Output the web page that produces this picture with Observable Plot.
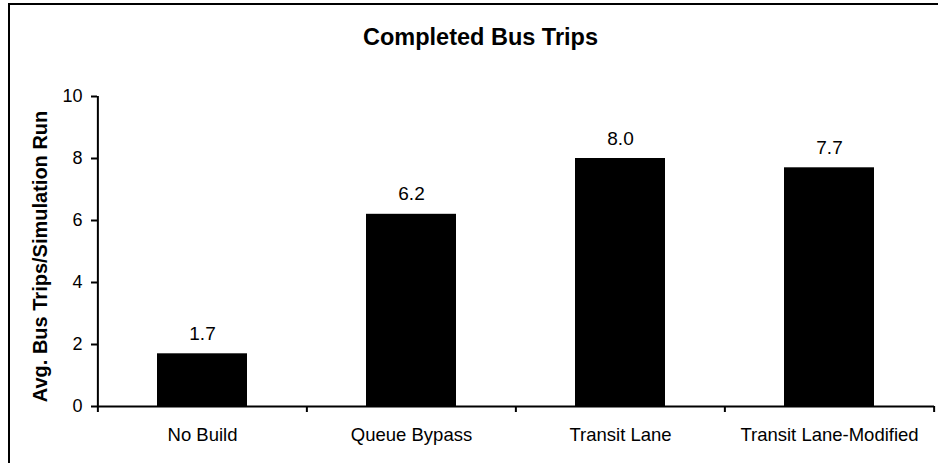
<!DOCTYPE html>
<html>
<head>
<meta charset="utf-8">
<script src="https://cdn.jsdelivr.net/npm/d3@7"></script>
<script src="https://cdn.jsdelivr.net/npm/@observablehq/plot@0.6"></script>
<style>
  html, body { margin: 0; padding: 0; background: #fff; }
  #wrap { position: relative; width: 938px; height: 463px; overflow: hidden; }
  #border { position: absolute; left: 8px; top: 3px; width: 1000px; height: 1000px;
            border-top: 2px solid #000; border-left: 2px solid #000; }
  #chart { position: absolute; left: 0; top: 0; }
</style>
</head>
<body>
<div id="wrap"><div id="border"></div><div id="chart"></div></div>
<script>
const title = "Completed Bus Trips";
const yLabel = "Avg. Bus Trips/Simulation Run";
const categories = ["No Build", "Queue Bypass", "Transit Lane", "Transit Lane-Modified"];
const values = [1.7, 6.2, 8.0, 7.7];
const yTicks = [0, 2, 4, 6, 8, 10];
const yDomain = [0, 10];

const data = categories.map((c, i) => ({category: c, value: values[i]}));

const W = 938, H = 463;
const mL = 97, mR = 4, mT = 96, mB = 57;
const step = (W - mL - mR) / categories.length;
const font = "'Liberation Sans', Arial, sans-serif";

const chart = Plot.plot({
  width: W,
  height: H,
  marginLeft: mL,
  marginRight: mR,
  marginTop: mT,
  marginBottom: mB,
  style: {fontFamily: font, background: "transparent", color: "#000", overflow: "visible"},
  x: {type: "band", domain: categories, paddingInner: 0.57, paddingOuter: 0.285, axis: null},
  y: {domain: yDomain, axis: null},
  marks: [
    Plot.barY(data, {x: "category", y: "value", fill: "#000"}),
    Plot.text(data, {x: "category", y: "value", text: d => d.value.toFixed(1), dy: -20, fontSize: 19, fill: "#000"}),
    Plot.ruleY([yDomain[0]], {stroke: "#000", strokeWidth: 2}),
    Plot.ruleX([categories[0]], {dx: -step / 2, y1: yDomain[0], y2: yDomain[1], stroke: "#000", strokeWidth: 2}),
    Plot.axisY({ticks: yTicks, tickSize: 6, tickPadding: 9, strokeWidth: 2, fontSize: 18, label: null, tickFormat: d => String(d)}),
    Plot.axisX({tickSize: 0, tickPadding: 21, fontSize: 18.5, label: null}),
    Plot.axisX({ticks: categories, tickSize: 6, strokeWidth: 2, dx: -step / 2, tickFormat: () => "", label: null}),
    Plot.axisX({ticks: [categories[categories.length - 1]], tickSize: 6, strokeWidth: 2, dx: step / 2, tickFormat: () => "", label: null}),
    Plot.text([title], {frameAnchor: "top", lineAnchor: "middle", textAnchor: "middle", dx: -35.5, dy: -59.5, fontSize: 23.5, fontWeight: "bold", fill: "#000"}),
    Plot.text([yLabel], {frameAnchor: "left", rotate: -90, textAnchor: "middle", lineAnchor: "middle", dx: -56.5, dy: 5, fontSize: 20, fontWeight: "bold", fill: "#000"})
  ]
});
document.getElementById("chart").appendChild(chart);
</script>
</body>
</html>
